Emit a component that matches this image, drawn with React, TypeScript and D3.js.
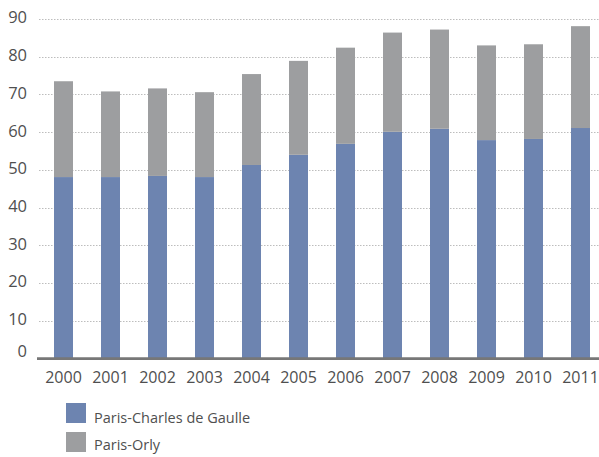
import React from "react";
import * as d3 from "d3";

const years = ["2000","2001","2002","2003","2004","2005","2006","2007","2008","2009","2010","2011"];
const cdg = [48.1, 48.1, 48.4, 48.1, 51.3, 54.0, 56.9, 60.1, 60.9, 57.9, 58.2, 61.1];
const orlyTotal = [73.5, 70.8, 71.6, 70.6, 75.4, 78.9, 82.4, 86.4, 87.2, 83.0, 83.3, 88.1];
const orly = orlyTotal.map((t, i) => +(t - cdg[i]).toFixed(1));
const yTicks = [0, 10, 20, 30, 40, 50, 60, 70, 80, 90];
const seriesNames = ["Paris-Charles de Gaulle", "Paris-Orly"];
const colors = ["#6D84B0", "#9D9EA0"];

export default function App() {
  const W = 599, H = 457;
  const x = d3.scaleBand<string>().domain(years).range([40, 604]).paddingInner(28 / 47).paddingOuter(14 / 47);
  const y = d3.scaleLinear().domain([0, 90]).range([358.5, 19]);
  const rows = years.map((yr, i) => ({ year: yr, cdg: cdg[i], orly: orly[i] }));
  const stack = d3.stack<any>().keys(["cdg", "orly"])(rows);
  const font = "'Open Sans', 'DejaVu Sans', sans-serif";
  return (
    <svg width={W} height={H} style={{ position: "absolute", left: 0, top: 0, background: "#fff" }}>
      {yTicks.filter(t => t > 0).map(t => (
        <line key={t} x1={39} x2={599} y1={Math.round(y(t)) + 0.5} y2={Math.round(y(t)) + 0.5}
          stroke="#BDBDBD" strokeWidth={1} strokeDasharray="1.5,1.5" />
      ))}
      {yTicks.map(t => (
        <text key={t} x={27} y={y(t) - (t === 0 ? 7 : 1.5)} dy="0.36em" textAnchor="end" fontFamily={font} fontSize={16.5} fill="#4F4F4F">{t}</text>
      ))}
      {stack.map((s, si) => (
        <g key={si} fill={colors[si]}>
          {s.map((d, i) => (
            <rect key={i} x={x(years[i])} width={x.bandwidth()} y={y(d[1])} height={y(d[0]) - y(d[1])} />
          ))}
        </g>
      ))}
      <line x1={37} x2={599} y1={358.7} y2={358.7} stroke="#777" strokeWidth={2.7} />
      {years.map(yr => (
        <text key={yr} x={(x(yr) as number) + x.bandwidth() / 2} y={383} textAnchor="middle" fontFamily={font} fontSize={16} fill="#4F4F4F">{yr}</text>
      ))}
      {seriesNames.map((n, i) => (
        <g key={n}>
          <rect x={66} y={403 + i * 29} width={20} height={20} fill={colors[i]} />
          <text x={94} y={423 + i * 27} fontFamily={font} fontSize={14.5} fill="#4F4F4F">{n}</text>
        </g>
      ))}
    </svg>
  );
}
